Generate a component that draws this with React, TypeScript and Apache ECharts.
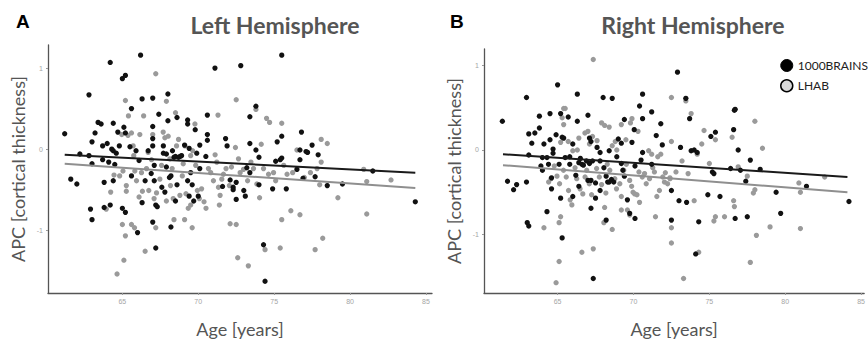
import React, { useEffect, useRef } from "react";
import * as echarts from "echarts";

type P = [number, number];

const xTicks = [65, 70, 75, 80, 85];
const yTicks = [-1, 0, 1];
const seriesNames = ["1000BRAINS", "LHAB"];
const panelTitles = ["Left Hemisphere", "Right Hemisphere"];
const panelLetters = ["A", "B"];

const leftBrains: P[] = [
  [61.2,0.19],[61.6,-0.37],[62.0,-0.43],[62.2,-0.06],[62.8,0.67],[62.8,-0.08],[62.9,-0.74],[63.0,-0.87],[63.0,0.09],[63.0,-0.18],
  [63.2,0.20],[63.4,0.33],[63.6,0.31],[63.7,0.04],[63.7,-0.13],[63.8,-0.41],[63.8,-0.72],[64.0,0.07],[64.1,-0.16],[64.2,1.07],
  [64.2,-0.69],[64.3,0.0],[64.4,0.32],[64.4,-0.02],[64.4,-0.39],[64.5,-0.19],[64.6,-0.05],[64.7,0.21],[64.8,0.04],[65.0,0.87],
  [65.2,0.91],[65.0,-0.73],[65.2,-0.78],[65.1,0.27],[65.2,0.20],[65.6,0.50],[65.5,0.03],[65.6,-0.33],[65.9,-0.02],[66.0,-1.03],
  [66.2,1.16],[66.3,0.62],[66.3,-0.66],[66.1,-0.14],[66.5,-0.39],[66.7,-0.02],[66.9,-0.30],[67.0,0.63],[67.0,0.04],[67.0,0.28],
  [67.0,0.13],[67.0,-0.90],[67.1,-0.20],[67.1,-0.39],[67.2,-0.69],[67.2,-1.22],[67.3,-0.71],[67.4,0.43],[67.6,-0.47],[67.7,-0.05],
  [67.7,0.04],[67.8,-0.53],[67.9,-0.22],[67.9,-0.06],[68.0,0.68],[68.0,0.35],[68.1,-0.35],[68.2,-0.96],[68.2,-0.33],[68.3,-0.02],
  [68.4,-0.10],[68.5,-0.09],[68.5,-0.64],[68.6,0.39],[68.6,-0.44],[68.7,-0.10],[68.8,-0.09],[68.9,-0.08],[69.1,0.05],[69.3,0.36],
  [69.3,0.31],[69.3,-0.39],[69.4,-0.58],[69.4,0.01],[69.5,-0.29],[69.6,-0.44],[69.7,-0.64],[69.8,0.24],[69.9,-0.05],[70.0,-0.58],
  [70.1,-0.24],[70.1,0.05],[70.5,-0.09],[70.6,0.42],[70.6,0.18],[70.6,0.11],[71.1,1.00],[71.8,0.13],[71.9,0.04],[71.6,-0.46],
  [72.1,-0.38],[72.3,-0.47],[72.3,-0.50],[72.5,-0.41],[72.5,-0.62],[72.8,1.03],[73.0,-0.51],[73.1,-0.58],[73.2,-0.23],[73.4,0.40],
  [73.4,0.07],[73.4,-0.29],[73.8,0.53],[73.8,-0.01],[74.0,-0.10],[74.0,-0.44],[74.3,-1.18],[74.4,-1.63],[74.9,-0.49],[75.1,-0.15],
  [75.2,0.09],[75.4,-0.13],[75.5,1.16],[75.5,0.16],[75.5,-0.11],[75.8,-0.49],[76.5,-0.25],[76.7,-0.13],[76.7,-0.01],[76.8,0.21],
  [76.9,-0.36],[77.1,-0.03],[77.2,-0.04],[77.5,0.05],[77.7,-0.34],[77.9,-0.07],[78.5,-0.45],[79.5,-0.43],[81.5,-0.27],[84.3,-0.65]
];

const leftLhab: P[] = [
  [65.2,0.60],[65.4,0.41],[67.2,0.93],[67.9,0.59],[66.4,0.41],[67.0,0.18],[68.5,0.45],[71.3,0.42],[72.5,0.61],[73.8,0.49],
  [74.5,0.38],[74.7,0.33],[75.5,0.32],[78.1,0.12],[78.5,0.07],[76.5,-0.01],[64.65,-1.54],[65.1,-1.37],[65.2,-1.07],[65.0,-0.93],
  [65.6,-0.93],[65.8,-0.97],[66.5,-1.26],[67.2,-0.97],[67.9,-0.64],[68.4,-0.87],[69.1,-0.87],[69.6,-0.97],[69.5,-0.69],[72.1,-0.92],
  [72.5,-0.93],[72.6,-1.34],[73.3,-1.44],[74.4,-1.24],[75.4,-1.22],[75.5,-0.87],[76.1,-0.76],[76.7,-0.81],[77.7,-1.24],[78.2,-1.10],
  [79.2,-0.60],[81.1,-0.80],[81.1,-0.40],[82.7,-0.38],[80.9,-0.25],[78.1,-0.16],[78.0,-0.44],
  [64.23,-0.53],[63.94,-0.74],[64.45,-0.32],[64.82,-0.33],[65.04,-0.27],[65.26,-0.45],[65.26,-0.52],[64.96,0.18],[65.37,0.17],[65.6,0.20],
  [65.71,0.04],[65.75,-0.08],[65.82,-0.27],[65.93,-0.39],[66.1,-0.59],[66.15,0.18],[66.26,-0.29],[66.32,-0.52],[66.59,-0.24],[66.7,-0.04],
  [66.74,-0.51],[66.92,-0.13],[67.09,-0.61],[67.25,-0.54],[67.47,-0.37],[67.58,-0.20],[67.69,0.21],[67.8,0.14],[68.02,0.16],[68.13,-0.12],
  [68.17,-0.45],[68.28,-0.24],[68.35,-0.61],[68.57,0.04],[68.7,0.12],[68.79,-0.57],[68.95,-0.33],[69.01,-0.18],[69.12,0.04],[69.19,-0.55],
  [69.34,-0.73],[69.5,-0.08],[69.63,-0.02],[69.78,0.31],[69.83,-0.20],[69.94,-0.51],[70.07,-0.61],[70.22,-0.49],[70.38,-0.65],[70.51,-0.73],
  [70.67,-0.24],[70.82,-0.29],[71.0,-0.39],[71.11,-0.07],[71.22,-0.16],[71.33,-0.47],[71.39,-0.69],[71.44,-0.57],[71.55,-0.37],[71.66,-0.31],
  [71.83,-0.24],[72.05,-0.45],[72.19,-0.22],[72.45,0.02],[72.65,-0.12],[72.76,-0.29],[72.98,-0.25],[73.25,-0.39],[73.47,-0.16],[73.64,-0.24],
  [73.86,-0.43],[74.04,-0.60],[74.15,0.06],[74.3,-0.24],[74.63,-0.31],[74.96,-0.29],[75.1,-0.39],[75.63,-0.20],[75.85,-0.31],[76.22,-0.29],
  [76.99,-0.35],[77.39,-0.29],[77.83,-0.24]
];

const rightBrains: P[] = [
  [61.36,0.34],[61.7,-0.37],[62.1,-0.47],[62.3,-0.41],[62.95,0.62],[62.95,-0.38],[63.0,-0.86],[63.1,-0.90],[63.1,0.19],[63.1,-0.06],
  [63.3,0.08],[63.5,0.20],[63.8,0.40],[63.8,0.26],[63.9,-0.19],[64.0,-0.24],[64.0,-0.09],[64.1,0.07],[64.3,-0.09],[64.3,-0.73],
  [64.4,-0.17],[64.5,0.43],[64.5,0.12],[64.6,-0.46],[64.6,-0.33],[64.7,0.01],[64.7,-0.04],[64.9,0.18],[65.0,0.77],[65.1,-0.17],
  [65.2,-0.57],[65.2,0.43],[65.3,0.15],[65.3,-1.04],[65.4,0.14],[65.5,-0.09],[65.7,0.39],[65.8,-0.08],[65.8,-0.17],[66.0,0.07],
  [66.0,-0.55],[66.2,-0.30],[66.3,0.66],[66.3,0.34],[66.4,-0.15],[66.4,-0.43],[66.5,-0.10],[66.6,-0.17],[66.7,-0.18],[66.9,-0.13],
  [67.0,-0.36],[67.0,0.41],[67.1,-0.16],[67.1,0.14],[67.2,0.10],[67.2,-0.69],[67.2,-0.36],[67.3,-0.13],[67.35,-1.52],[67.5,-0.57],
  [67.5,-0.39],[67.6,0.03],[67.8,-0.03],[67.8,-0.48],[67.8,-0.13],[68.0,0.62],[68.05,-0.21],[68.2,-0.31],[68.2,-0.83],[68.3,-0.38],
  [68.4,-0.01],[68.4,-0.38],[68.55,-0.35],[68.6,0.61],[68.7,-0.38],[68.9,-0.08],[69.0,0.13],[69.2,0.08],[69.2,-0.16],[69.3,-0.24],
  [69.4,0.36],[69.4,-0.31],[69.6,-0.59],[69.75,-0.75],[69.9,0.09],[70.05,0.24],[70.1,-0.81],[70.1,-0.19],[70.4,0.52],[70.5,-0.12],
  [70.6,-0.03],[70.6,0.66],[70.6,0.37],[71.2,0.45],[71.2,-0.17],[71.5,0.17],[71.8,0.31],[71.9,0.06],[72.5,-0.48],[72.5,-0.83],
  [72.9,0.92],[73.0,-0.60],[73.1,0.03],[73.45,0.61],[73.5,-0.62],[73.7,0.37],[73.8,-0.01],[74.0,0.0],[74.1,-1.23],[74.2,-0.03],
  [74.3,-0.85],[74.9,-0.53],[75.1,0.16],[75.4,0.21],[75.2,-0.26],[75.3,-0.28],[75.7,-0.55],[76.4,-0.22],[76.6,0.24],[76.65,0.47],
  [76.7,0.48],[76.7,-0.81],[76.9,0.0],[77.05,-0.24],[77.4,-0.37],[77.5,-0.79],[77.7,-0.12],[78.35,-0.23],[79.4,-0.50],[79.7,-0.75],
  [81.4,-0.43],[84.2,-0.61]
];

const rightLhab: P[] = [
  [67.35,1.07],[72.5,0.62],[73.45,0.58],[73.8,0.43],[74.65,0.23],[74.5,0.07],[75.4,0.12],[76.5,0.15],[78.0,0.34],[78.5,0.02],
  [82.6,-0.32],[80.9,-0.39],[81.0,-0.50],[81.0,-0.93],[79.0,-0.91],[78.1,-1.01],[77.7,-1.33],[78.0,-0.47],[77.9,-0.51],[76.9,-0.20],
  [77.5,-0.31],[76.6,-0.60],[76.65,-0.67],[76.0,-0.79],[75.4,-0.79],[75.3,-0.84],[74.3,-1.21],[73.3,-1.52],[72.5,-1.10],[72.5,-0.92],
  [71.45,-0.79],[70.4,-0.62],[69.75,-0.77],[69.6,-0.71],[69.2,-0.71],[68.6,-0.94],[68.05,-0.86],[68.1,-0.68],[67.35,-1.17],[66.6,-1.21],
  [65.1,-1.32],[64.9,-1.57],[65.2,-0.79],[65.1,-0.86],[64.1,-0.92],[65.4,0.49],[65.5,0.49],[65.3,0.38],[65.4,0.30],[65.2,0.09],
  [65.7,0.10],[66.0,-0.01],[66.3,0.0],[66.4,0.14],[66.8,0.20],[67.0,0.22],[67.1,0.07],[67.3,0.16],[67.6,0.11],[67.9,0.32],
  [68.1,0.29],[68.4,0.27],[68.6,0.05],[68.8,0.10],[68.9,0.0],[69.2,0.30],[69.5,0.12],[69.8,0.32],[69.9,0.37],[70.3,0.22],
  [71.0,-0.01],[71.2,-0.05],[71.6,-0.08],[71.8,-0.05],[72.1,-0.27],[72.4,-0.33],[72.5,0.10],[72.8,-0.26],[73.2,-0.13],[73.6,-0.28],
  [74.0,-0.60],[74.2,-0.05],[75.0,-0.16],
  [64.41,-0.38],[64.56,-0.34],[64.78,-0.19],[64.96,-0.31],[65.13,-0.40],[65.39,-0.24],[65.57,-0.32],[65.72,-0.48],[65.83,-0.59],[65.94,-0.65],
  [66.15,-0.21],[66.26,-0.34],[66.48,-0.46],[66.66,-0.52],[66.81,-0.32],[66.92,-0.24],[67.09,-0.40],[67.24,-0.53],[67.57,-0.22],[67.75,-0.32],
  [67.9,-0.41],[68.18,-0.51],[68.27,-0.17],[68.44,-0.24],[68.77,-0.34],[68.88,-0.46],[69.1,-0.40],[69.2,-0.55],[69.36,-0.24],[69.53,-0.17],
  [69.75,-0.36],[69.88,-0.43],[69.97,-0.50],[70.08,-0.52],[70.23,-0.53],[70.36,-0.26],[70.58,-0.32],[70.73,-0.28],[70.84,-0.40],[71.06,-0.34],
  [71.27,-0.21],[71.38,-0.26],[71.54,-0.55],[71.71,-0.48],[71.93,-0.32],[72.04,-0.38],[72.25,-0.40],[72.41,-0.34]
];

const leftBrainsFit: P[] = [[61.2,-0.07],[84.3,-0.29]];
const leftLhabFit: P[] = [[61.2,-0.18],[84.3,-0.48]];
const rightBrainsFit: P[] = [[61.4,-0.05],[84.1,-0.32]];
const rightLhabFit: P[] = [[61.4,-0.18],[84.1,-0.50]];

const BLACK = "#111111";
const GRAY = "#9a9a9a";
const FONT = "Lato, 'Open Sans', sans-serif";

export default function App() {
  const ref = useRef<HTMLDivElement>(null);
  useEffect(() => {
    document.body.style.margin = "0";
    if (!ref.current) return;
    const chart = echarts.init(ref.current, null, { renderer: "svg" });

    const grids = [
      { left: 48, top: 45, width: 384, height: 250 },
      { left: 484, top: 49, width: 384, height: 249 },
    ];
    const xRanges = [[60.1, 85.4], [60.15, 85.2]];
    const yRanges = [[-1.775, 1.285], [-1.692, 1.194]];

    const xAxes = grids.map((_, i) => ({
      type: "value",
      gridIndex: i,
      min: xRanges[i][0],
      max: xRanges[i][1],
      name: "Age [years]",
      nameLocation: "middle",
      nameGap: 27,
      nameTextStyle: { fontFamily: FONT, fontSize: 18, color: "#555" },
      splitLine: { show: false },
      axisLine: { show: true, onZero: false, lineStyle: { color: "#555", width: 1.3 } },
      axisTick: { show: true, length: 2, lineStyle: { color: "#999" }, customValues: xTicks },
      axisLabel: { fontSize: 7, color: "#a5a5a5", margin: 5, customValues: xTicks, fontFamily: "Arial" },
    }));
    const yAxes = grids.map((_, i) => ({
      type: "value",
      gridIndex: i,
      min: yRanges[i][0],
      max: yRanges[i][1],
      name: "APC [cortical thickness]",
      nameLocation: "middle",
      nameGap: 21,
      nameTextStyle: { fontFamily: FONT, fontSize: 18, color: "#555" },
      splitLine: { show: false },
      axisLine: { show: true, onZero: false, lineStyle: { color: "#555", width: 1.3 } },
      axisTick: { show: true, length: 2, lineStyle: { color: "#999" }, customValues: yTicks },
      axisLabel: { fontSize: 7, color: "#a5a5a5", margin: 5, customValues: yTicks, fontFamily: "Arial" },
    }));

    const scat = (name: string, data: P[], i: number, color: string) => ({
      type: "scatter",
      name,
      xAxisIndex: i,
      yAxisIndex: i,
      data,
      symbolSize: 5.3,
      itemStyle: { color, opacity: 1 },
      z: color === BLACK ? 3 : 2,
    });
    const fit = (data: P[], i: number, color: string) => ({
      type: "line",
      xAxisIndex: i,
      yAxisIndex: i,
      data,
      symbol: "none",
      lineStyle: { color, width: 2 },
      z: 4,
      silent: true,
    });

    chart.setOption({
      animation: false,
      title: [
        { text: panelLetters[0], left: 11, top: 7, textStyle: { fontFamily: "Arial", fontWeight: "bold", fontSize: 19, color: "#000" } },
        { text: panelLetters[1], left: 445, top: 7, textStyle: { fontFamily: "Arial", fontWeight: "bold", fontSize: 19, color: "#000" } },
        { text: panelTitles[0], left: 270, top: 8, textAlign: "center", textStyle: { fontFamily: FONT, fontWeight: "bold", fontSize: 23, color: "#555" } },
        { text: panelTitles[1], left: 688, top: 8, textAlign: "center", textStyle: { fontFamily: FONT, fontWeight: "bold", fontSize: 23, color: "#555" } },
      ],
      legend: {
        orient: "vertical",
        left: 775,
        top: 54,
        itemWidth: 12,
        itemHeight: 12,
        itemGap: 7,
        icon: "circle",
        textStyle: { fontFamily: FONT, fontSize: 12, color: "#222" },
        data: [
          { name: seriesNames[0], itemStyle: { color: "#000", borderColor: "#000", borderWidth: 1 } },
          { name: seriesNames[1], itemStyle: { color: "#d9d9d9", borderColor: "#000", borderWidth: 1.5 } },
        ],
      },
      grid: grids,
      xAxis: xAxes,
      yAxis: yAxes,
      series: [
        scat(seriesNames[1], leftLhab, 0, GRAY),
        scat(seriesNames[0], leftBrains, 0, BLACK),
        scat(seriesNames[1], rightLhab, 1, GRAY),
        scat(seriesNames[0], rightBrains, 1, BLACK),
        fit(leftLhabFit, 0, "#8f8f8f"),
        fit(leftBrainsFit, 0, "#1a1a1a"),
        fit(rightLhabFit, 1, "#8f8f8f"),
        fit(rightBrainsFit, 1, "#1a1a1a"),
      ],
    });
    return () => chart.dispose();
  }, []);
  return <div ref={ref} style={{ width: 868, height: 343 }} />;
}
